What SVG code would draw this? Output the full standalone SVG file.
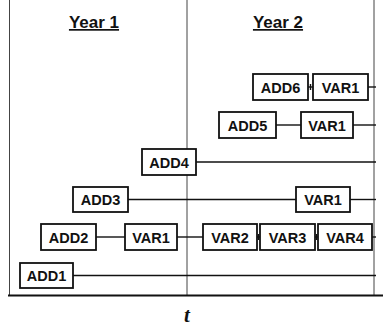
<svg xmlns="http://www.w3.org/2000/svg" width="383" height="327" viewBox="0 0 383 327">
<style>
.box{fill:#fff;stroke:#111;stroke-width:1.8}
.lbl{font-family:"Liberation Sans",Arial,sans-serif;font-weight:bold;font-size:14.5px;fill:#111;text-anchor:middle}
.hdr{font-family:"Liberation Sans",Arial,sans-serif;font-weight:bold;font-size:17px;fill:#111;text-anchor:middle;text-decoration:underline}
.grid{stroke:#444;stroke-width:1;fill:none}
.conn{stroke:#111;stroke-width:1.4;fill:none}
</style>
<rect width="383" height="327" fill="#fff"/>
<g id="axes">
<line class="grid" x1="9.5" y1="0" x2="9.5" y2="295"/>
<line class="grid" x1="187" y1="0" x2="187" y2="295"/>
<line class="grid" x1="374" y1="0" x2="374" y2="295"/>
<line x1="8" y1="295.5" x2="383" y2="295.5" stroke="#111" stroke-width="2"/>
<text class="hdr" x="94" y="28">Year 1</text>
<text class="hdr" x="278" y="28">Year 2</text>
<text x="187" y="322" font-family="Liberation Serif,serif" font-style="italic" font-weight="bold" font-size="21" text-anchor="middle" fill="#111">t</text>
</g>
<g id="connectors">
<line class="conn" x1="308" y1="87" x2="313" y2="87"/>
<line class="conn" x1="310.5" y1="84" x2="310.5" y2="90"/>
<line class="conn" x1="368" y1="87" x2="376" y2="87"/>
<line class="conn" x1="276" y1="125" x2="301" y2="125"/>
<line class="conn" x1="353" y1="125" x2="376" y2="125"/>
<line class="conn" x1="196" y1="162" x2="376" y2="162"/>
<line class="conn" x1="128" y1="199.5" x2="296" y2="199.5" stroke-width="1.8"/>
<line class="conn" x1="350" y1="199.5" x2="376" y2="199.5" stroke-width="1.8"/>
<line class="conn" x1="96" y1="237" x2="125" y2="237"/>
<line class="conn" x1="177" y1="237" x2="203" y2="237"/>
<line class="conn" x1="257" y1="237" x2="260" y2="237"/>
<line class="conn" x1="258.5" y1="234" x2="258.5" y2="240"/>
<line class="conn" x1="315" y1="237" x2="318" y2="237"/>
<line class="conn" x1="316.5" y1="234" x2="316.5" y2="240"/>
<line class="conn" x1="372" y1="237" x2="376" y2="237"/>
<line class="conn" x1="73" y1="275.5" x2="376" y2="275.5"/>
</g>
<g id="ADD6"><rect class="box" x="253" y="74" width="55" height="26"/><text class="lbl" x="280.5" y="92.5">ADD6</text></g>
<g id="VAR1-a"><rect class="box" x="313" y="74" width="55" height="26"/><text class="lbl" x="340.5" y="92.5">VAR1</text></g>
<g id="ADD5"><rect class="box" x="219" y="112" width="57" height="26"/><text class="lbl" x="247.5" y="130.5">ADD5</text></g>
<g id="VAR1-b"><rect class="box" x="301" y="112" width="52" height="26"/><text class="lbl" x="327" y="130.5">VAR1</text></g>
<g id="ADD4"><rect class="box" x="142" y="149" width="54" height="26"/><text class="lbl" x="169" y="167.5">ADD4</text></g>
<g id="ADD3"><rect class="box" x="73" y="187" width="55" height="25"/><text class="lbl" x="100.5" y="205">ADD3</text></g>
<g id="VAR1-c"><rect class="box" x="296" y="187" width="54" height="25"/><text class="lbl" x="323" y="205">VAR1</text></g>
<g id="ADD2"><rect class="box" x="41" y="224" width="55" height="26"/><text class="lbl" x="68.5" y="242.5">ADD2</text></g>
<g id="VAR1-d"><rect class="box" x="125" y="224" width="52" height="26"/><text class="lbl" x="151" y="242.5">VAR1</text></g>
<g id="VAR2"><rect class="box" x="203" y="224" width="54" height="26"/><text class="lbl" x="230" y="242.5">VAR2</text></g>
<g id="VAR3"><rect class="box" x="260" y="224" width="55" height="26"/><text class="lbl" x="287.5" y="242.5">VAR3</text></g>
<g id="VAR4"><rect class="box" x="318" y="224" width="54" height="26"/><text class="lbl" x="345" y="242.5">VAR4</text></g>
<g id="ADD1"><rect class="box" x="20" y="263" width="53" height="25"/><text class="lbl" x="46.5" y="281">ADD1</text></g>
</svg>
